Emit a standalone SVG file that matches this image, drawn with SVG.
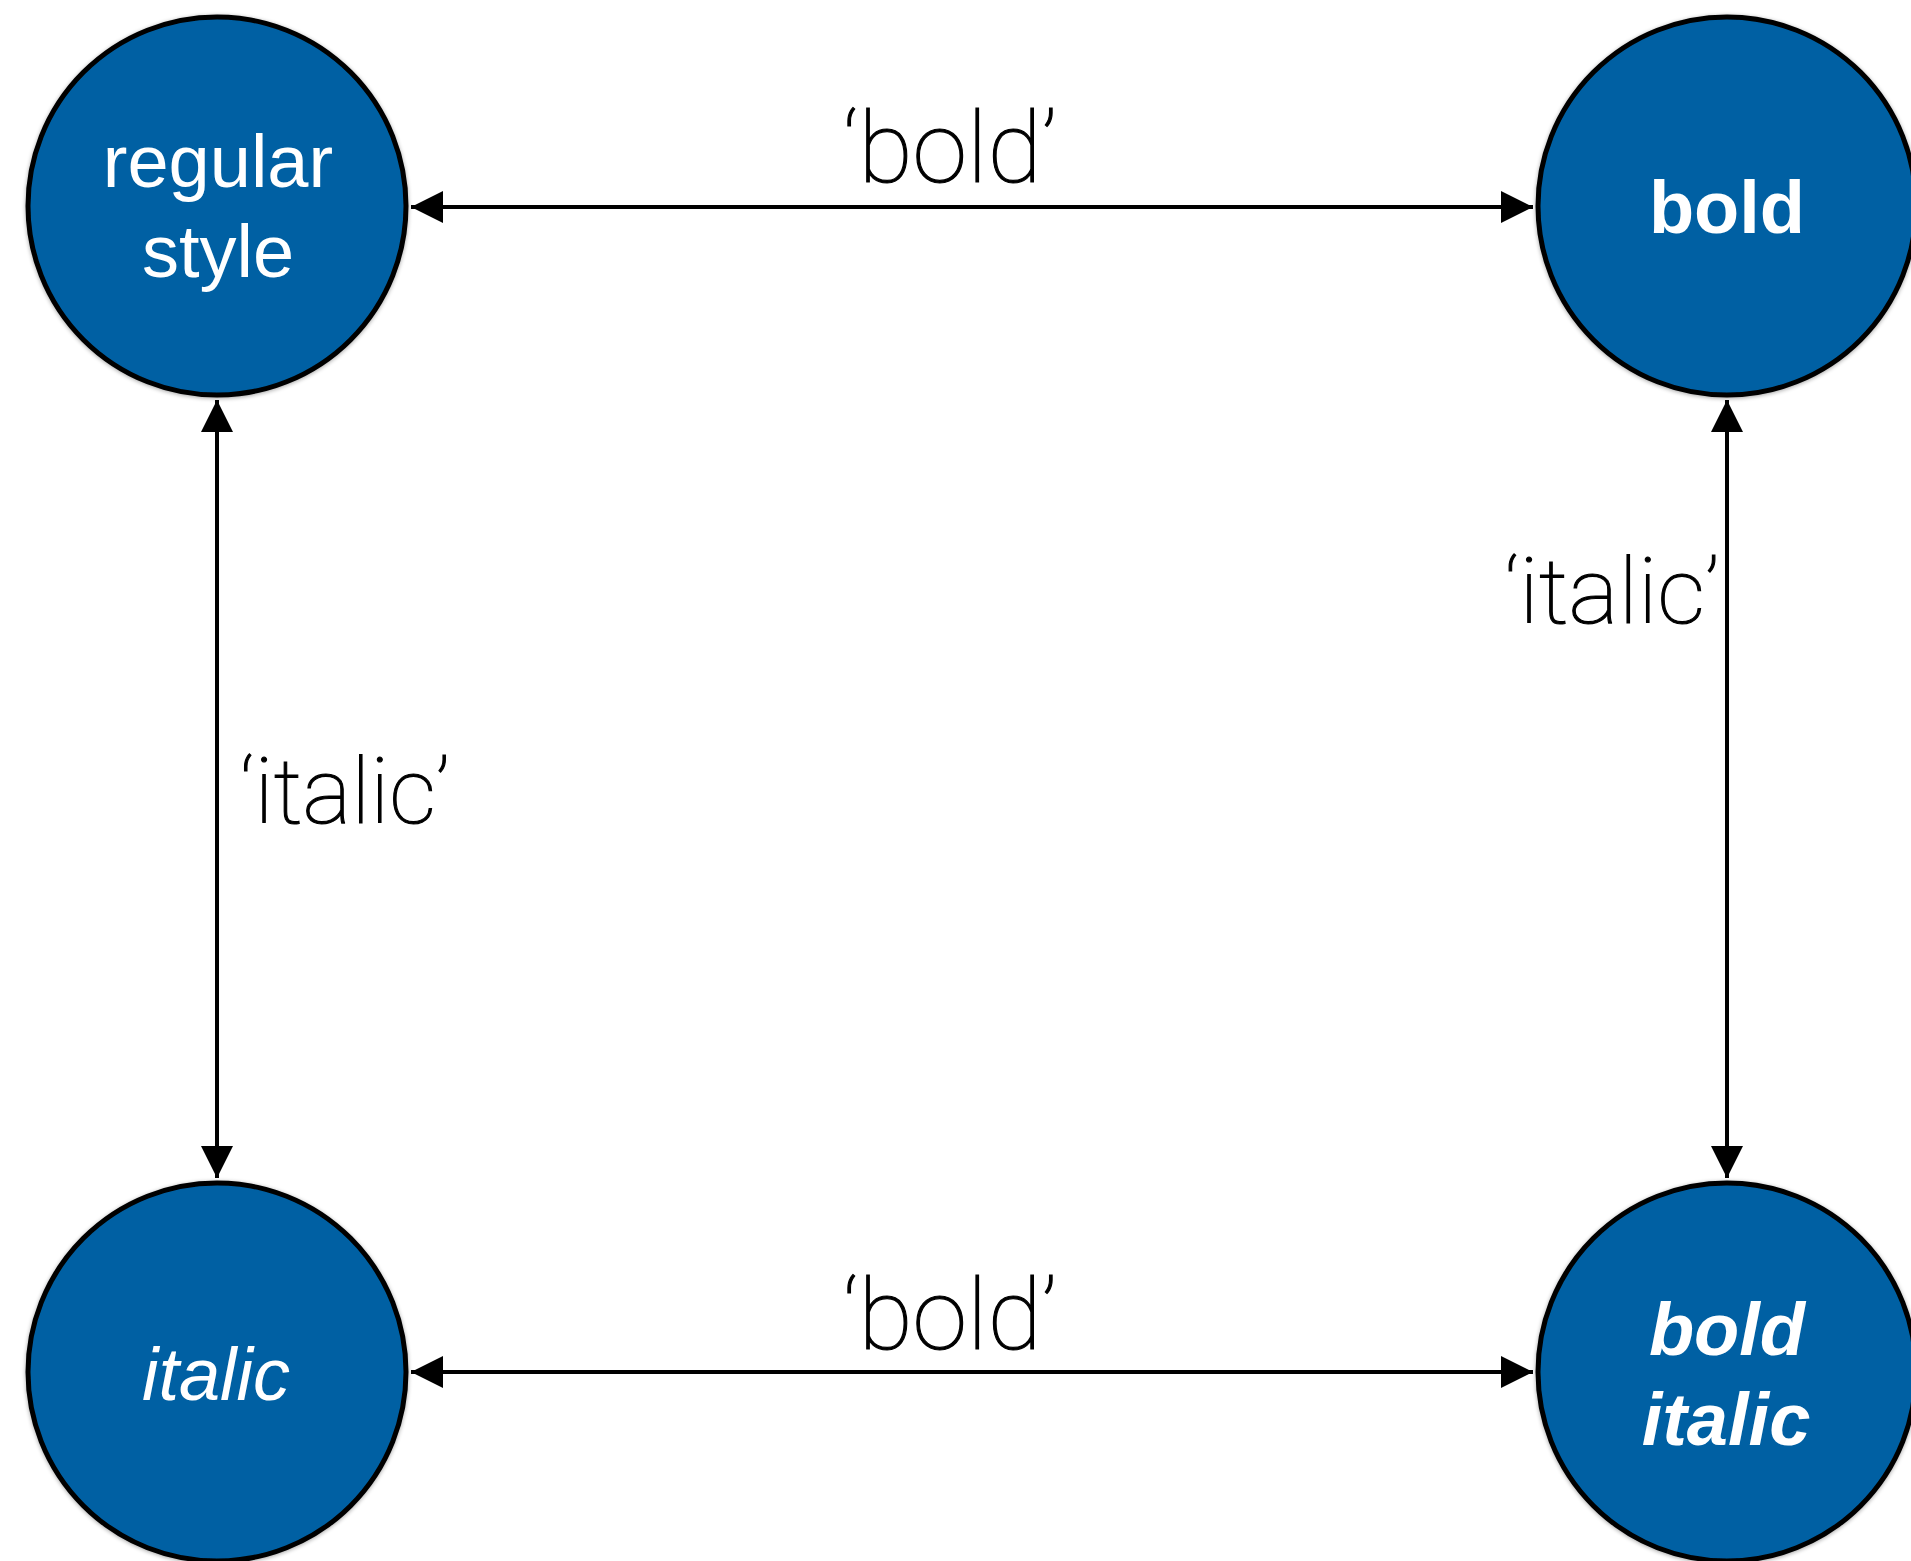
<svg xmlns="http://www.w3.org/2000/svg" width="1911" height="1561" viewBox="0 0 1911 1561">
<style>
.node{fill:#0361a3;stroke:#000;stroke-width:5;}
.nt{fill:#fff;font-family:"Liberation Sans",Arial,sans-serif;font-size:74px;text-anchor:middle;}
.lbl{fill:#000;stroke:#000;stroke-width:1.1;font-family:Roboto,"Open Sans",sans-serif;font-weight:100;text-anchor:middle;}
.edge{stroke:#000;stroke-width:4;fill:none;}
</style>
<defs>
<marker id="ah" viewBox="0 0 32 32" refX="32" refY="16" markerWidth="32" markerHeight="32" markerUnits="userSpaceOnUse" orient="auto-start-reverse">
<path d="M0,0 L32,16 L0,32 Z" fill="#000"/>
</marker>
<filter id="sh" x="-10%" y="-10%" width="120%" height="120%">
<feGaussianBlur in="SourceAlpha" stdDeviation="2"/>
<feOffset dx="0" dy="1" result="b"/>
<feComponentTransfer><feFuncA type="linear" slope="0.35"/></feComponentTransfer>
<feMerge><feMergeNode/><feMergeNode in="SourceGraphic"/></feMerge>
</filter>
</defs>
<rect width="1911" height="1561" fill="#fff"/>
<g id="connectors">
<line class="edge" x1="411" y1="207" x2="1533" y2="207" marker-start="url(#ah)" marker-end="url(#ah)"/>
<line class="edge" x1="411" y1="1372" x2="1533" y2="1372" marker-start="url(#ah)" marker-end="url(#ah)"/>
<line class="edge" x1="217" y1="400" x2="217" y2="1178" marker-start="url(#ah)" marker-end="url(#ah)"/>
<line class="edge" x1="1727" y1="400" x2="1727" y2="1178" marker-start="url(#ah)" marker-end="url(#ah)"/>
<text class="lbl" x="950" y="182" font-size="98" textLength="214" lengthAdjust="spacingAndGlyphs">‘bold’</text>
<text class="lbl" x="950" y="1349" font-size="98" textLength="214" lengthAdjust="spacingAndGlyphs">‘bold’</text>
<text class="lbl" x="345" y="823" font-size="90" textLength="210" lengthAdjust="spacingAndGlyphs">‘italic’</text>
<text class="lbl" x="1612" y="623" font-size="90" textLength="215" lengthAdjust="spacingAndGlyphs">‘italic’</text>
</g>
<g id="node-regular">
<circle class="node" cx="217" cy="206" r="189" filter="url(#sh)"/>
<text class="nt" x="218" y="187">regular</text>
<text class="nt" x="218" y="277">style</text>
</g>
<g id="node-bold">
<circle class="node" cx="1727" cy="206" r="189" filter="url(#sh)"/>
<text class="nt" x="1727" y="233" font-weight="bold">bold</text>
</g>
<g id="node-italic">
<circle class="node" cx="217" cy="1372" r="189" filter="url(#sh)"/>
<text class="nt" x="216" y="1400" font-style="italic">italic</text>
</g>
<g id="node-bolditalic">
<circle class="node" cx="1727" cy="1372" r="189" filter="url(#sh)"/>
<text class="nt" x="1727" y="1355" font-weight="bold" font-style="italic">bold</text>
<text class="nt" x="1726" y="1445" font-weight="bold" font-style="italic">italic</text>
</g>
</svg>
